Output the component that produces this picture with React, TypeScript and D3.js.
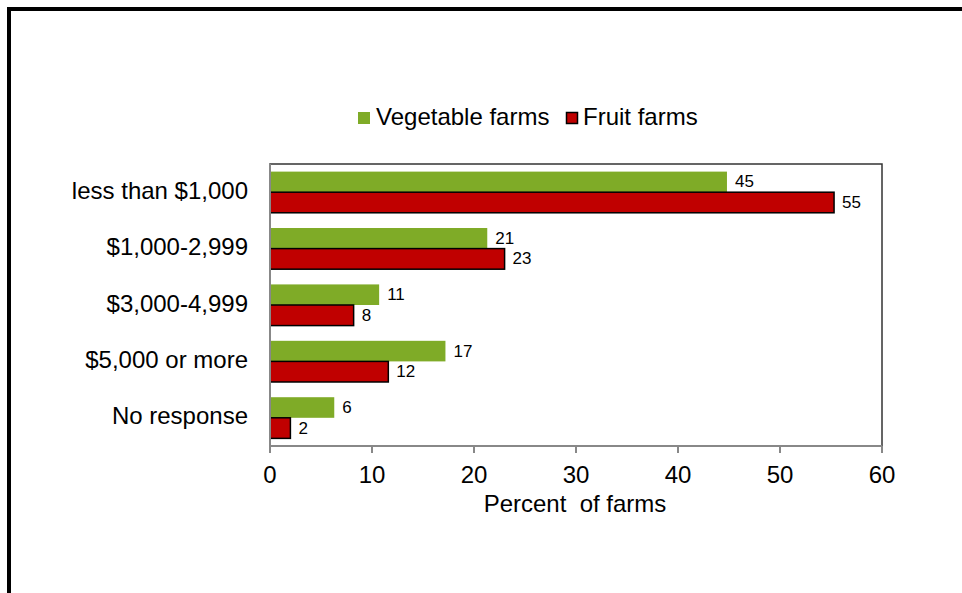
import React from "react";
import * as d3 from "d3";

const categories = ["less than $1,000", "$1,000-2,999", "$3,000-4,999", "$5,000 or more", "No response"];
const vegetableValues = [44.8, 21.3, 10.7, 17.2, 6.3];
const fruitValues = [55.3, 23.0, 8.2, 11.6, 2.0];
const seriesNames = ["Vegetable farms", "Fruit farms"];
const xTicks = [0, 10, 20, 30, 40, 50, 60];

const W = 962;
const H = 593;
const plot = { left: 270, right: 882, top: 164, bottom: 446 };
const FONT = "Liberation Sans, Arial, sans-serif";
const GREEN = "#7FAB27";
const RED = "#C00000";
const FS = 24;

export default function App() {
  const x = d3.scaleLinear().domain([0, 60]).range([plot.left, plot.right]);
  const y = d3
    .scaleBand<string>()
    .domain(categories)
    .range([plot.top, plot.bottom])
    .paddingInner(0.27)
    .paddingOuter(0.135);
  const sub = d3.scaleBand<string>().domain(seriesNames).range([0, y.bandwidth()]);
  const fmt = d3.format(".0f");
  const series = [
    { name: seriesNames[0], values: vegetableValues, color: GREEN, stroke: "none" },
    { name: seriesNames[1], values: fruitValues, color: RED, stroke: "#000" },
  ];

  return (
    <svg
      width={W}
      height={H}
      style={{ position: "absolute", left: 0, top: 0, background: "#fff" }}
      fontFamily={FONT}
    >
      <rect x={0} y={0} width={W} height={H} fill="#fff" />
      {/* outer frame (top and left visible) */}
      <rect x={9} y={9} width={1200} height={1200} fill="none" stroke="#000" strokeWidth={4} />

      {/* legend */}
      <g>
        <rect x={358} y={112} width={12} height={12} fill={GREEN} />
        <text x={376} y={116.5} dominantBaseline="central" fontSize={FS} fill="#000">
          {seriesNames[0]}
        </text>
        <rect x={566.5} y={112.5} width={11} height={11} fill={RED} stroke="#000" strokeWidth={1.5} />
        <text x={583} y={116.5} dominantBaseline="central" fontSize={FS} fill="#000">
          {seriesNames[1]}
        </text>
      </g>

      {/* plot frame */}
      <rect
        x={plot.left}
        y={plot.top}
        width={plot.right - plot.left}
        height={plot.bottom - plot.top}
        fill="none"
        stroke="#333"
        strokeWidth={1.5}
      />

      {/* bars */}
      {series.map((s) =>
        s.values.map((v, i) => {
          const by = (y(categories[i]) ?? 0) + (sub(s.name) ?? 0);
          const bh = sub.bandwidth();
          return (
            <g key={s.name + i}>
              <rect
                x={x(0)}
                y={by}
                width={x(v) - x(0)}
                height={bh}
                fill={s.color}
                stroke={s.stroke}
                strokeWidth={s.stroke === "none" ? 0 : 1.5}
              />
              <text
                x={x(v) + 8}
                y={by + bh / 2}
                dominantBaseline="central"
                fontSize={17}
                fill="#000"
              >
                {fmt(v)}
              </text>
            </g>
          );
        })
      )}

      {/* axes */}
      <line x1={plot.left} x2={plot.left} y1={plot.top} y2={plot.bottom} stroke="#888" strokeWidth={2} />
      <line x1={plot.left} x2={plot.right} y1={plot.bottom} y2={plot.bottom} stroke="#888" strokeWidth={2} />
      {xTicks.map((t) => (
        <g key={t}>
          <line x1={x(t)} x2={x(t)} y1={plot.bottom} y2={plot.bottom + 7} stroke="#888" strokeWidth={2} />
          <text x={x(t)} y={474} textAnchor="middle" dominantBaseline="central" fontSize={FS} fill="#000">
            {t}
          </text>
        </g>
      ))}
      <text x={575} y={503.5} textAnchor="middle" dominantBaseline="central" fontSize={FS} fill="#000" style={{ whiteSpace: "pre" }}>
        {"Percent  of farms"}
      </text>

      {categories.map((c) => (
        <text
          key={c}
          x={248}
          y={(y(c) ?? 0) + y.bandwidth() / 2 - 2}
          textAnchor="end"
          dominantBaseline="central"
          fontSize={FS}
          fill="#000"
        >
          {c}
        </text>
      ))}
    </svg>
  );
}
